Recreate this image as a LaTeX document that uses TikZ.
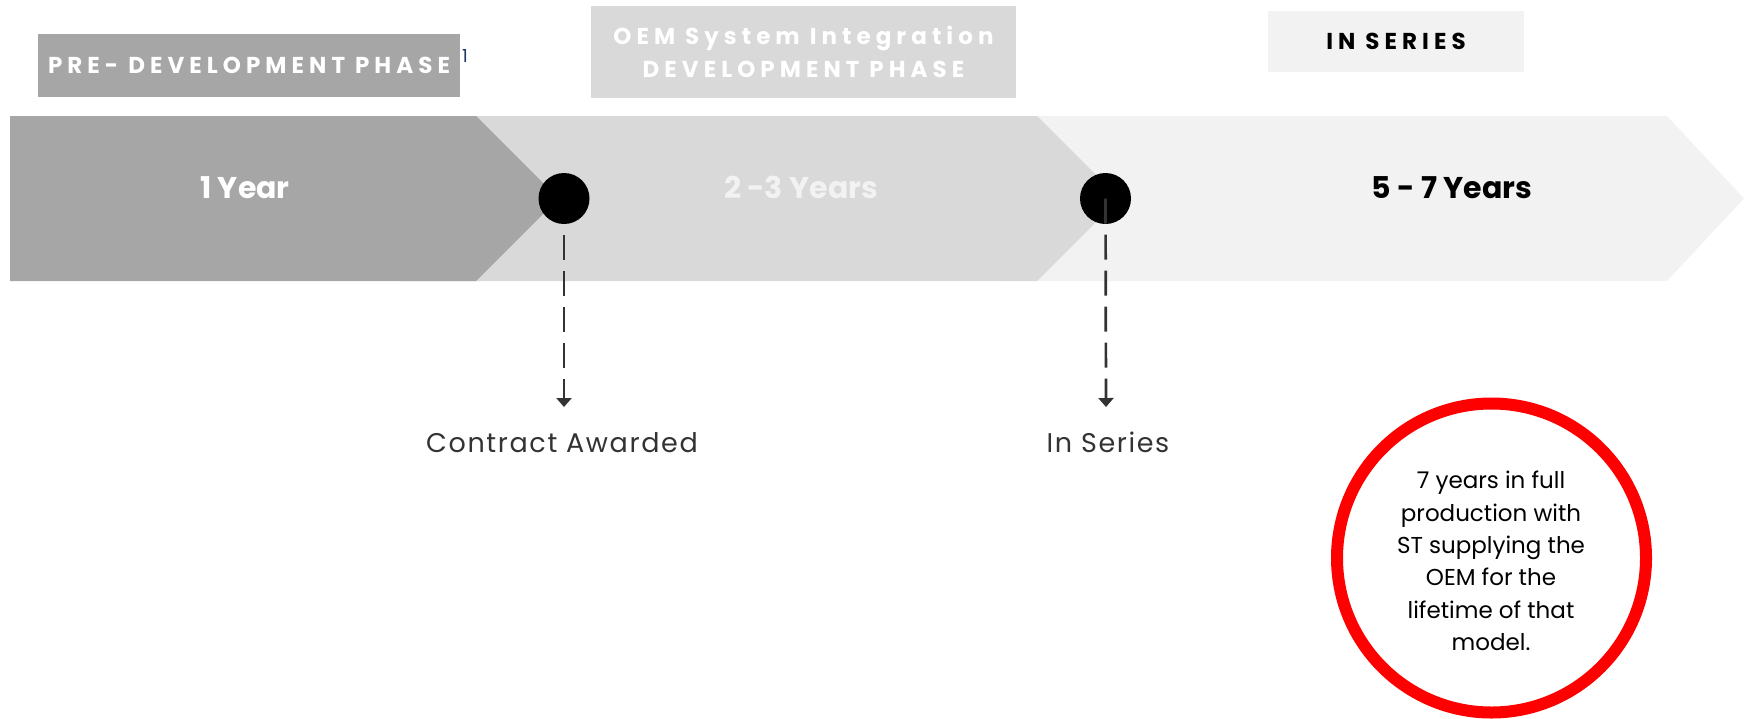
\documentclass[tikz,border=0pt]{standalone}
\usepackage{fontspec}
\setmainfont{Poppins}
\newfontfamily\capsfont[LetterSpace=22]{Poppins}
\newfontfamily\eventfont[LetterSpace=6]{Poppins}
\usetikzlibrary{arrows.meta}

\definecolor{phaseA}{HTML}{A6A6A6}
\definecolor{phaseB}{HTML}{D9D9D9}
\definecolor{phaseC}{HTML}{F2F2F2}
\definecolor{ink}{HTML}{333333}
\definecolor{notenavy}{HTML}{1F3864}

\begin{document}
\begin{tikzpicture}[x=1pt,y=-1pt,
  phase/.style={inner sep=0pt,align=center,font=\capsfont\bfseries\fontsize{23}{32.7}\selectfont},
  years/.style={anchor=base,font=\bfseries\fontsize{30}{36}\selectfont},
  milestone/.style={circle,fill=black,minimum size=51pt,inner sep=0pt},
  event/.style={anchor=base,text=ink,font=\eventfont\fontsize{27}{32}\selectfont},
  drop/.style={draw=ink,line width=2.7pt,dash pattern=on 25pt off 11pt,-{Triangle[width=15pt,length=9pt]}}]
  \useasboundingbox (0,0) rectangle (1744,718);

  \foreach \xa/\xb/\xc/\col in {1000/1667/1744/phaseC, 400/1037/1119.5/phaseB, 10/476/558.5/phaseA}
    \fill[\col] (\xa,116) -- (\xb,116) -- (\xc,198.5) -- (\xb,281) -- (\xa,281) -- cycle;

  \node[phase,fill=phaseA,text=white,minimum width=422pt,minimum height=63pt] (pre) at (249,65.5) {PRE- DEVELOPMENT PHASE};
  \node[anchor=base,text=notenavy,font=\fontsize{18}{20}\selectfont] (fn) at (465,62) {1};
  \node[phase,fill=phaseB,text=white,minimum width=425pt,minimum height=92pt] (oem) at (803.5,52) {OEM System Integration\\DEVELOPMENT PHASE};
  \node[phase,fill=phaseC,text=black,minimum width=256pt,minimum height=61pt] (ser) at (1396,41.5) {IN SERIES};

  \node[years,text=white] (y1) at (245,198) {1 Year};
  \node[years,text=phaseC] (y2) at (801,198) {2 -3 Years};
  \node[years,text=black] (y3) at (1452,198) {5 - 7 Years};

  \coordinate (p1) at (564,198.5);
  \coordinate (a1) at (564,407);
  \coordinate (a2) at (1106,407);
  \path (p1) edge[drop] (a1);
  \node[milestone] (c1) at (p1) {};
  \node[milestone] (c2) at (1105.5,198.5) {};
  \path (c2.center) edge[drop] (a2);

  \node[event] (ca) at (562,452) {Contract Awarded};
  \node[event] (is) at (1108,452) {In Series};

  \node[circle,draw=red,line width=12pt,minimum size=309pt,inner sep=0pt] (note) at (1491.5,558) {};
  \node[align=center,font=\fontsize{23}{32.4}\selectfont] (notetext) at (1491,561) {7 years in full\\production with\\ST supplying the\\OEM for the\\lifetime of that\\model.};
\end{tikzpicture}
\end{document}
